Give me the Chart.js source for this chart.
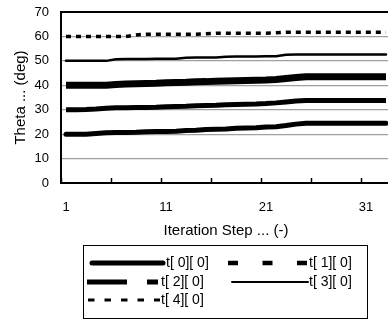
<!DOCTYPE html>
<html>
<head>
<meta charset="utf-8">
<script src="https://cdn.jsdelivr.net/npm/chart.js@4/dist/chart.umd.min.js"></script>
<style>
  html, body { margin: 0; padding: 0; background: #fff; overflow: hidden; }
  #wrap { width: 388px; height: 323px; overflow: hidden; }
</style>
</head>
<body>
<div id="wrap"><canvas id="thetaChart" width="392" height="323"></canvas></div>
<script>
const steps = [1, 2, 3, 4, 5, 6, 7, 8, 9, 10, 11, 12, 13, 14, 15, 16, 17, 18, 19, 20,
               21, 22, 23, 24, 25, 26, 27, 28, 29, 30, 31, 32, 33];
const seriesNames = ['t[ 0][ 0]', 't[ 1][ 0]', 't[ 2][ 0]', 't[ 3][ 0]', 't[ 4][ 0]'];

const t0 = [20, 20, 20, 20.3, 20.6, 20.7, 20.7, 20.8, 21.0, 21.1, 21.1, 21.2, 21.5, 21.6, 21.9, 22.0, 22.1,
            22.4, 22.5, 22.6, 22.9, 23.0, 23.5, 24.1, 24.5, 24.5, 24.5, 24.5, 24.5, 24.5, 24.5, 24.5, 24.5];
const t1 = [30, 30, 30.1, 30.3, 30.6, 30.8, 30.8, 30.9, 30.9, 31.0, 31.2, 31.3, 31.4, 31.6, 31.7, 31.8, 32.0,
            32.1, 32.2, 32.3, 32.5, 32.8, 33.2, 33.6, 33.8, 33.8, 33.8, 33.8, 33.8, 33.8, 33.8, 33.8, 33.8];
const t2 = [40, 40, 40, 40, 40, 40.3, 40.5, 40.6, 40.7, 40.8, 41.0, 41.1, 41.2, 41.4, 41.5, 41.7, 41.8,
            41.9, 42.0, 42.1, 42.2, 42.4, 42.8, 43.2, 43.5, 43.5, 43.5, 43.5, 43.5, 43.5, 43.5, 43.5, 43.5];
const t3 = [50, 50, 50, 50, 50, 50.7, 50.8, 50.8, 50.8, 50.9, 50.9, 50.9, 51.3, 51.4, 51.4, 51.4, 51.7,
            51.8, 51.8, 51.8, 51.9, 51.9, 52.5, 52.6, 52.6, 52.6, 52.6, 52.6, 52.6, 52.6, 52.6, 52.6, 52.6];
const t4 = [60, 60, 60, 60, 60, 60, 60, 60.6, 60.9, 60.9, 60.9, 60.9, 60.9, 60.9, 61.1, 61.3, 61.3,
            61.3, 61.3, 61.3, 61.3, 61.5, 61.7, 61.7, 61.7, 61.7, 61.7, 61.7, 61.7, 61.7, 61.7, 61.7, 61.7];
const seriesValues = [t0, t1, t2, t3, t4];

// line look inside the plot
const lineWidths = [5, 5, 7, 2.5, 3.5];
const lineCaps = ['round', 'butt', 'butt', 'round', 'butt'];
const plotDash = [[], [], [], [], [5, 5]];

// legend samples: [lineStart, lineEnd, textX, rowY]
const legendDash = [[], [10, 24.5], [40, 20], [], [6.5, 10]];
const legendWidths = [5, 4.5, 5, 2, 3];
const legendSlots = [[92, 163, 166, 263], [228, 307, 309, 263], [87, 158, 161, 282],
                     [232, 308, 309, 282], [88, 160, 161, 300]];

const FONT = '"Liberation Sans", Arial, sans-serif';

// Excel-style boxed legend below the axis title
const boxLegend = {
    id: 'boxLegend',
    afterDraw(chart) {
        const ctx = chart.ctx;
        ctx.save();
        ctx.strokeStyle = '#000';
        ctx.lineWidth = 1;
        ctx.strokeRect(83.5, 245.5, 284, 73);
        ctx.font = '14px ' + FONT;
        ctx.textBaseline = 'middle';
        ctx.fillStyle = '#000';
        chart.data.datasets.forEach((ds, i) => {
            const [x0, x1, tx, y] = legendSlots[i];
            ctx.beginPath();
            ctx.setLineDash(legendDash[i]);
            ctx.lineWidth = legendWidths[i];
            ctx.lineCap = ds.borderCapStyle;
            ctx.moveTo(x0, y);
            ctx.lineTo(x1, y);
            ctx.stroke();
            ctx.setLineDash([]);
            ctx.fillText(ds.label, tx, y);
        });
        ctx.restore();
    }
};

new Chart(document.getElementById('thetaChart'), {
    type: 'line',
    data: {
        labels: steps,
        datasets: seriesValues.map((vals, i) => ({
            label: seriesNames[i],
            data: vals,
            borderColor: '#000',
            backgroundColor: '#000',
            borderWidth: lineWidths[i],
            borderCapStyle: lineCaps[i],
            borderJoinStyle: 'round',
            borderDash: plotDash[i],
            pointRadius: 0,
            tension: 0,
            fill: false
        }))
    },
    options: {
        responsive: false,
        animation: false,
        layout: { autoPadding: false, padding: { left: 8, top: 12, right: 1, bottom: 80 } },
        plugins: {
            legend: { display: false },
            tooltip: { enabled: false }
        },
        scales: {
            x: {
                type: 'category',
                offset: true,
                afterFit: s => { s.height = 60; s.paddingLeft = 0; s.paddingRight = 0; },
                grid: {
                    offset: true,
                    drawOnChartArea: false,
                    tickLength: -5,
                    tickWidth: 1.5,
                    tickColor: c => (c.index !== undefined && c.index % 5 === 0) ? '#000' : 'rgba(0,0,0,0)'
                },
                border: { color: '#000', width: 2 },
                ticks: {
                    autoSkip: false,
                    maxRotation: 0,
                    padding: 22,
                    color: '#000',
                    font: { family: FONT, size: 13 },
                    callback: (v, i) => i % 10 === 0 ? String(steps[i]) : ''
                },
                title: {
                    display: true,
                    text: 'Iteration Step ... (-)',
                    color: '#000',
                    font: { family: FONT, size: 15 },
                    padding: { top: 8, bottom: 3 }
                }
            },
            y: {
                min: 0,
                max: 70,
                afterFit: s => { s.width = 53; s.paddingTop = 0; s.paddingBottom = 0; },
                grid: {
                    drawTicks: false,
                    color: c => (c.tick && c.tick.value === 70) ? '#000' : '#a0a0a0',
                    lineWidth: c => (c.tick && c.tick.value === 70) ? 2 : 1.2
                },
                border: { color: '#000', width: 2 },
                ticks: {
                    stepSize: 10,
                    padding: 12,
                    color: '#000',
                    font: { family: FONT, size: 13 }
                },
                title: {
                    display: true,
                    text: 'Theta ... (deg)',
                    color: '#000',
                    font: { family: FONT, size: 15 },
                    padding: { top: 4, bottom: 4 }
                }
            }
        }
    },
    plugins: [boxLegend]
});
</script>
</body>
</html>
